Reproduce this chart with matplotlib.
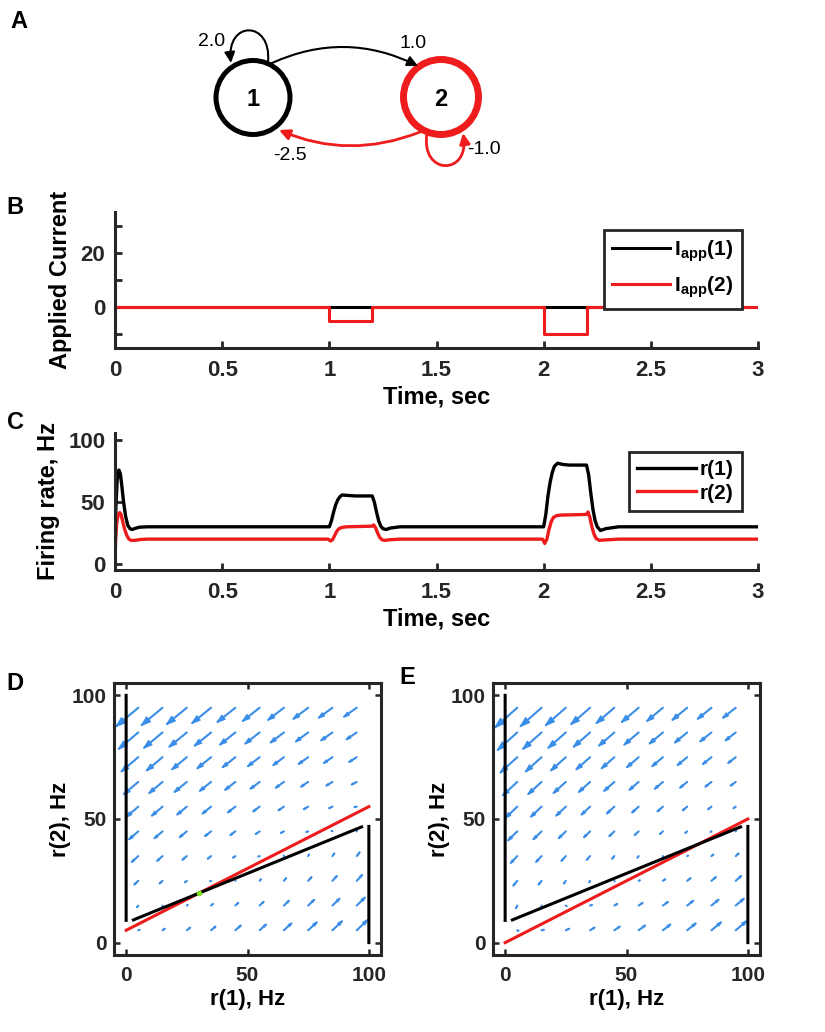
import matplotlib
matplotlib.use('Agg')
import matplotlib.pyplot as plt
import numpy as np
from matplotlib.patches import Circle, FancyArrowPatch
from matplotlib.path import Path
from matplotlib.collections import LineCollection, PolyCollection

plt.rcParams['font.family'] = ['Liberation Sans', 'DejaVu Sans']
NARROW = ['Liberation Sans Narrow', 'Liberation Sans', 'DejaVu Sans']
DARK = '#262626'
RED = '#ee1c1c'
BLUE = '#3a8ee8'

# ---- panel A: connection weights (1->1, 1->2, 2->1, 2->2)
weights = [2.0, 1.0, -2.5, -1.0]

# ---- panel B: applied currents
t_step = [0, 1, 1, 1.2, 1.2, 2, 2, 2.2, 2.2, 3]
iapp1 = [0, 0, 0, 0, 0, 0, 0, 0, 0, 0]
iapp2 = [0, 0, -5, -5, 0, 0, -10, -10, 0, 0]

# ---- panel C: firing rates
t_r1 = [0, 0.004, 0.01, 0.018, 0.025, 0.032, 0.04, 0.05, 0.06, 0.07, 0.08, 0.095, 0.115, 0.15,
        1.0, 1.01, 1.02, 1.03, 1.04, 1.05, 1.06, 1.08, 1.12, 1.2, 1.21, 1.22, 1.23, 1.24, 1.25, 1.265, 1.285, 1.33,
        2.0, 2.01, 2.02, 2.03, 2.04, 2.05, 2.065, 2.09, 2.12, 2.2, 2.21, 2.22, 2.23, 2.24, 2.25, 2.265, 2.29, 2.35, 3.0]
r1 = [0, 45, 68, 76, 73, 63, 50, 38, 31, 28.5, 27.8, 28.8, 29.7, 30,
      30, 35, 42, 48, 52, 54.5, 55.8, 55.5, 55, 55, 50, 42, 35, 30.5, 28.5, 27.8, 29, 30,
      30, 40, 55, 66, 74, 79, 81.5, 80.5, 80, 80, 72, 57, 44, 35, 30, 27, 28.5, 30, 30]
t_r2 = [0, 0.003, 0.008, 0.015, 0.022, 0.028, 0.035, 0.045, 0.055, 0.065, 0.075, 0.09, 0.12, 0.15,
        0.995, 1.005, 1.015, 1.025, 1.035, 1.045, 1.06, 1.08, 1.2, 1.207, 1.215, 1.225, 1.235, 1.245, 1.26, 1.28, 1.33,
        1.995, 2.005, 2.015, 2.025, 2.035, 2.045, 2.06, 2.08, 2.2, 2.207, 2.215, 2.225, 2.235, 2.245, 2.26, 2.28, 2.35, 3.0]
r2 = [0, 20, 33, 40, 41.5, 40, 35, 28, 23, 20, 19, 19, 19.7, 20,
      20, 18.5, 19.5, 23, 26.5, 28.5, 29.5, 30, 30.5, 31.5, 29.5, 25, 21.5, 19.5, 19, 19.5, 20,
      20, 16.5, 20, 28, 34, 37.5, 39, 39.5, 40, 42, 38, 30, 24, 20.5, 19, 19.3, 20, 20]

# ---- panels D, E: phase plane
grid_r1 = [5, 15, 25, 35, 45, 55, 65, 75, 85, 95]
grid_r2 = [95, 85, 75, 65, 55, 45, 35, 25, 15, 5]
# dr1/dt, same in both panels (rows follow grid_r2)
du1 = [
    [-212, -202, -192, -182, -172, -162, -152, -142, -132, -122],
    [-188, -178, -168, -158, -148, -138, -128, -118, -108, -98],
    [-162, -152, -142, -132, -122, -112, -102, -92, -82, -72],
    [-138, -128, -118, -108, -98, -88, -78, -68, -58, -48],
    [-112, -102, -92, -82, -72, -62, -52, -42, -32, -22],
    [-88, -78, -68, -58, -48, -38, -28, -18, -8, 2],
    [-62, -52, -42, -32, -22, -12, -2, 8, 18, 28],
    [-38, -28, -18, -8, 2, 12, 22, 32, 42, 52],
    [-12, -2, 8, 18, 28, 38, 48, 58, 68, 78],
    [12, 22, 32, 42, 52, 62, 72, 82, 92, 102],
]
du2_d = [
    [-175, -165, -155, -145, -135, -125, -115, -105, -95, -85],
    [-155, -145, -135, -125, -115, -105, -95, -85, -75, -65],
    [-135, -125, -115, -105, -95, -85, -75, -65, -55, -45],
    [-115, -105, -95, -85, -75, -65, -55, -45, -35, -25],
    [-95, -85, -75, -65, -55, -45, -35, -25, -15, -5],
    [-75, -65, -55, -45, -35, -25, -15, -5, 5, 15],
    [-55, -45, -35, -25, -15, -5, 5, 15, 25, 35],
    [-35, -25, -15, -5, 5, 15, 25, 35, 45, 55],
    [-15, -5, 5, 15, 25, 35, 45, 55, 65, 75],
    [5, 15, 25, 35, 45, 55, 65, 75, 85, 95],
]
du2_e = [
    [-185, -175, -165, -155, -145, -135, -125, -115, -105, -95],
    [-165, -155, -145, -135, -125, -115, -105, -95, -85, -75],
    [-145, -135, -125, -115, -105, -95, -85, -75, -65, -55],
    [-125, -115, -105, -95, -85, -75, -65, -55, -45, -35],
    [-105, -95, -85, -75, -65, -55, -45, -35, -25, -15],
    [-85, -75, -65, -55, -45, -35, -25, -15, -5, 5],
    [-65, -55, -45, -35, -25, -15, -5, 5, 15, 25],
    [-45, -35, -25, -15, -5, 5, 15, 25, 35, 45],
    [-25, -15, -5, 5, 15, 25, 35, 45, 55, 65],
    [-5, 5, 15, 25, 35, 45, 55, 65, 75, 85],
]
# r1 nullcline (black), pieces split by nan
nc1_x = [0, 0, np.nan, 3, 97, np.nan, 100, 100]
nc1_y = [100, 9, np.nan, 9.2, 46.8, np.nan, 47, 0]
# r2 nullclines (red)
nc2_d_x = [0, 100]
nc2_d_y = [5, 55]
nc2_e_x = [0, 100]
nc2_e_y = [0, 50]
fixed_d = (30, 20)

W, H = 825, 1032
fig = plt.figure(figsize=(W / 100, H / 100), dpi=100)


def px_axes(left, top, right, bottom):
    return fig.add_axes([left / W, 1 - bottom / H, (right - left) / W, (bottom - top) / H])


# ================= A =================
ax_a = fig.add_axes([0, 1 - 190 / H, 1, 190 / H])
ax_a.set_xlim(0, W)
ax_a.set_ylim(190, 0)
ax_a.axis('off')

ax_a.add_patch(Circle((253, 97.5), 37, fill=False, ec='black', lw=3.6))
ax_a.add_patch(Circle((441, 97), 37.5, fill=False, ec=RED, lw=5))
ax_a.text(253, 99, '1', ha='center', va='center', fontsize=17, fontweight='bold')
ax_a.text(441, 99, '2', ha='center', va='center', fontsize=17, fontweight='bold')

C3 = [Path.MOVETO, Path.CURVE3, Path.CURVE3]
C4 = [Path.MOVETO, Path.CURVE4, Path.CURVE4, Path.CURVE4]
edges = [
    ([(268, 62), (272, 20), (226, 20), (231, 63)], C4, 'black', 1.5),
    ([(272, 63), (345, 30), (418, 66)], C3, 'black', 1.5),
    ([(420, 132), (349, 160), (279, 130)], C3, RED, 2.0),
    ([(427, 133), (420, 176), (470, 176), (463, 133)], C4, RED, 2.0),
]
for verts, codes, col, lw in edges:
    ax_a.add_patch(FancyArrowPatch(path=Path(verts, codes),
                                   arrowstyle='-|>,head_length=0.45,head_width=0.22',
                                   mutation_scale=14, color=col, lw=lw))
for (x, y), w in zip([(212, 42), (413, 43), (290, 155), (484, 150)], weights):
    ax_a.text(x, y, f'{w:.1f}', ha='center', va='center', fontsize=14)


def style_time_axes(ax):
    ax.spines[['top', 'right']].set_visible(False)
    for s in ax.spines.values():
        s.set_linewidth(2.2)
        s.set_color(DARK)
    ax.tick_params(direction='in', length=5, width=2, colors=DARK, labelsize=16, pad=7)
    ax.tick_params(axis='x', pad=9)
    ax.set_xlim(0, 3)
    ax.set_xticks([0, 0.5, 1, 1.5, 2, 2.5, 3])
    ax.set_xticklabels(['0', '0.5', '1', '1.5', '2', '2.5', '3'])
    for lbl in ax.get_xticklabels() + ax.get_yticklabels():
        lbl.set_fontfamily(NARROW)
        lbl.set_fontweight('bold')
    ax.set_xlabel('Time, sec', family=NARROW, fontweight='bold', fontsize=17, labelpad=3)


def style_legend(leg):
    fr = leg.get_frame()
    fr.set_linewidth(2)
    fr.set_edgecolor(DARK)
    for t in leg.get_texts():
        t.set_fontfamily(NARROW)
        t.set_fontweight('bold')


# ================= B =================
ax_b = px_axes(115, 212, 758, 348)
ax_b.plot(t_step, iapp1, color='black', lw=2.2, label=r'I$_\mathregular{app}$(1)')
ax_b.plot(t_step, iapp2, color=RED, lw=2.2, label=r'I$_\mathregular{app}$(2)')
ax_b.set_ylim(-15, 35)
ax_b.set_yticks([-10, 0, 10, 20, 30])
ax_b.set_yticklabels(['', '0', '', '20', ''])
style_time_axes(ax_b)
ax_b.set_ylabel('Applied Current', family=NARROW, fontweight='bold', fontsize=17, labelpad=6)
leg = ax_b.legend(loc='upper right', bbox_to_anchor=(0.975, 0.868), borderaxespad=0,
                  fancybox=False, fontsize=15, handlelength=2.8, handletextpad=0.2,
                  labelspacing=0.5, framealpha=1, borderpad=0.4)
style_legend(leg)

# ================= C =================
ax_c = px_axes(115, 433, 758, 570)
ax_c.plot(t_r1, r1, color='black', lw=2.4, label='r(1)')
ax_c.plot(t_r2, r2, color=RED, lw=2.4, label='r(2)')
ax_c.set_ylim(-5, 106)
ax_c.set_yticks([0, 50, 100])
style_time_axes(ax_c)
ax_c.set_ylabel('Firing rate, Hz', family=NARROW, fontweight='bold', fontsize=17, labelpad=6)
leg = ax_c.legend(loc='upper right', bbox_to_anchor=(0.975, 0.861), borderaxespad=0,
                  fancybox=False, fontsize=15, handlelength=2.8, handletextpad=0.2,
                  labelspacing=0.2, framealpha=1, borderpad=0.4)
style_legend(leg)


# ================= D, E =================
def draw_field(ax, du_a, du_b, scale=0.0427):
    X, Y = np.meshgrid(grid_r1, grid_r2)
    u = np.array(du_a, float) * scale
    v = np.array(du_b, float) * scale
    a, b = 0.33, 0.33
    shafts, heads = [], []
    for x, y, dx, dy in zip(X.ravel(), Y.ravel(), u.ravel(), v.ravel()):
        tip = (x + dx, y + dy)
        shafts.append([(x, y), tip])
        left = (tip[0] - a * (dx + b * dy), tip[1] - a * (dy - b * dx))
        right = (tip[0] - a * (dx - b * dy), tip[1] - a * (dy + b * dx))
        heads.append([left, tip, right])
    ax.add_collection(LineCollection(shafts, colors=BLUE, linewidths=1.5, capstyle='round'))
    ax.add_collection(PolyCollection(heads, facecolors=BLUE, edgecolors=BLUE,
                                     linewidths=1.0, joinstyle='round'))


def style_phase(ax):
    ax.set_xlim(-5, 105)
    ax.set_ylim(-5, 105)
    ax.set_xticks([0, 50, 100])
    ax.set_yticks([0, 50, 100])
    for s in ax.spines.values():
        s.set_linewidth(2.2)
        s.set_color(DARK)
    ax.tick_params(direction='in', length=4, width=1.8, colors=DARK, top=True, right=True,
                   labelsize=15, pad=5)
    ax.tick_params(axis='x', pad=8)
    for lbl in ax.get_xticklabels() + ax.get_yticklabels():
        lbl.set_fontweight('bold')
    ax.set_xlabel('r(1), Hz', fontweight='bold', fontsize=16, labelpad=3)
    ax.set_ylabel('r(2), Hz', fontweight='bold', fontsize=16, labelpad=1)


ax_d = px_axes(114, 683, 381, 955)
draw_field(ax_d, du1, du2_d)
ax_d.plot(nc2_d_x, nc2_d_y, color=RED, lw=2.2)
ax_d.plot(nc1_x, nc1_y, color='black', lw=2.2)
ax_d.plot([fixed_d[0]], [fixed_d[1]], 'o', color='#7ddc1f', ms=4, mec='none')
style_phase(ax_d)

ax_e = px_axes(493, 683, 760, 955)
draw_field(ax_e, du1, du2_e)
ax_e.plot(nc2_e_x, nc2_e_y, color=RED, lw=2.2)
ax_e.plot(nc1_x, nc1_y, color='black', lw=2.2)
style_phase(ax_e)

# panel letters
for ch, x, y in [('A', 19, 21), ('B', 15, 208), ('C', 15, 422), ('D', 15, 683), ('E', 407, 678)]:
    fig.text(x / W, 1 - y / H, ch, ha='center', va='center', fontsize=17, fontweight='bold')

fig.savefig('out.png', dpi=100)
